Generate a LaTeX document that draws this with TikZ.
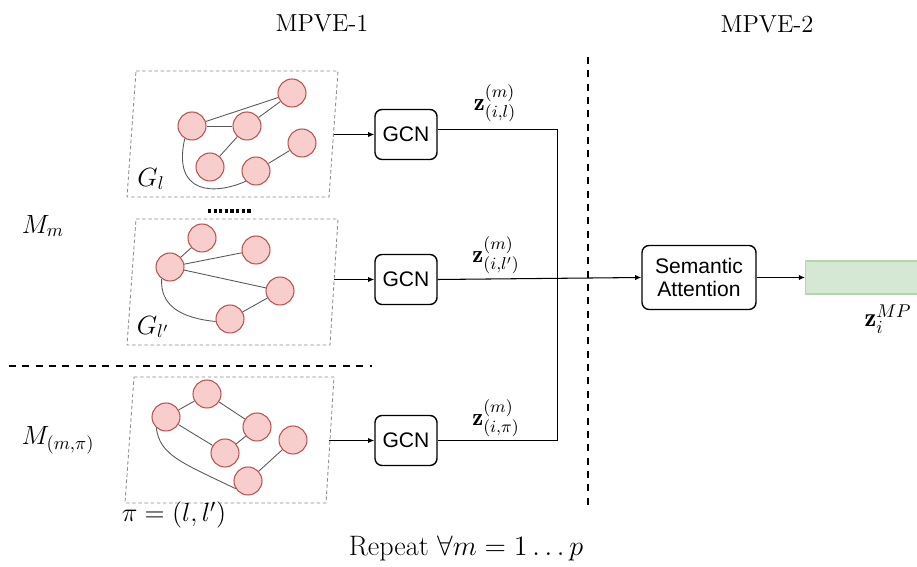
\RequirePackage{fix-cm}
\documentclass[tikz,border=0pt]{standalone}
\usepackage{fontspec}
\newfontfamily\gcnfont{Liberation Sans}
\usepackage{tikz}
\usetikzlibrary{positioning}
\usetikzlibrary{arrows.meta}
\definecolor{nodefill}{HTML}{F8CECC}
\definecolor{nodedraw}{HTML}{B85450}
\definecolor{embfill}{HTML}{D5E8D4}
\definecolor{embdraw}{HTML}{B5D6AC}
\tikzstyle{vertex}=[circle,fill=nodefill,draw=nodedraw,line width=0.6pt,minimum size=0.56cm,inner sep=0pt]
\tikzstyle{gedge}=[draw=black!65,line width=0.5pt]
\tikzstyle{panel}=[draw=black!45,dash pattern=on 2pt off 1.5pt,line width=0.5pt]
\tikzstyle{block}=[draw,rounded corners=4pt,line width=0.8pt,font=\gcnfont\fontsize{12}{13.5}\selectfont,align=center,inner sep=1pt]
\tikzstyle{flow}=[draw,line width=0.6pt,-{Latex[length=3.5pt,width=3pt]}]
\tikzstyle{wire}=[draw,line width=0.6pt]
\tikzstyle{divider}=[draw,line width=1.4pt,dash pattern=on 4pt off 3.6pt]
\tikzstyle{heading}=[font=\fontsize{14}{16}\selectfont]
\tikzstyle{zlabel}=[font=\fontsize{14}{16}\selectfont,inner sep=1pt]
\tikzstyle{glabel}=[font=\fontsize{15}{17}\selectfont]

\begin{document}
\begin{tikzpicture}[x=0.02cm, y=-0.02cm]
    \useasboundingbox (0,0) rectangle (917,567);

    % Titles
    \node[heading] (t1) at (322,23) {MPVE-1};
    \node[heading] (t2) at (767,24) {MPVE-2};
    \node[heading, font=\fontsize{16}{18}\selectfont] (rep) at (466,548) {Repeat $\forall m = 1\ldots p$};
    \node[heading, font=\fontsize{15}{17}\selectfont] (mm) at (43,226) {$M_m$};
    \node[heading, font=\fontsize{15}{17}\selectfont] (mmp) at (58,440) {$M_{(m,\pi)}$};

    % Draw the graph G_l
    % First we draw the vertices
    \draw[panel] (136,71) -- (338,71) -- (329,197) -- (127,197) -- cycle;
    \foreach \pos/\name in {{(192,126)/a1}, {(247,126)/a2}, {(292,93)/a3}, {(302,143)/a4}, {(210,167)/a5}, {(256,171)/a6}}
        \node[vertex] (\name) at \pos {};
    % Connect vertices with edges
    \foreach \source/ \dest in {a1/a3, a1/a2, a2/a3, a2/a5, a4/a6}
        \path[gedge] (\source) -- (\dest);
    \path[gedge] (a1.240) .. controls (172,195) and (215,195) .. (a6.225);
    \node[glabel] (gl) at (151,179) {$G_l$};
    \coordinate (p1) at (333.5,134.5);

    % the dots between the graphs
    \draw[line width=1.8pt,dash pattern=on 1.8pt off 1.4pt] (208,211) -- (251,211);

    % Draw the graph G_l'
    \draw[panel] (136,219) -- (338,219) -- (330,345) -- (127,345) -- cycle;
    \foreach \pos/\name in {{(170,267)/b1}, {(202,238)/b2}, {(256,250)/b3}, {(280,291)/b4}, {(230,319)/b5}}
        \node[vertex] (\name) at \pos {};
    \foreach \source/ \dest in {b1/b2, b1/b3, b1/b4, b4/b5}
        \path[gedge] (\source) -- (\dest);
    \path[gedge] (b1.235) .. controls (160,305) and (180,318) .. (b5.190);
    \node[glabel] (glp) at (153,327) {$G_{l'}$};
    \coordinate (p2) at (334,279.5);

    % dashed line between the meta paths
    \draw[divider] (9,366) -- (372,366);

    % Draw the graph of pi
    \draw[panel] (134,377) -- (334,377) -- (326,503) -- (125,503) -- cycle;
    \foreach \pos/\name in {{(166,417)/c1}, {(207,394)/c2}, {(257,427)/c3}, {(225,453)/c4}, {(293,440)/c5}, {(248,481)/c6}}
        \node[vertex] (\name) at \pos {};
    \foreach \source/ \dest in {c1/c2, c2/c3, c1/c4, c4/c3, c5/c6}
        \path[gedge] (\source) -- (\dest);
    \path[gedge] (c1.228) .. controls (160,455) and (180,462) .. (c6.212);
    \node[glabel] (pil) at (174,515) {$\pi = (l,l')$};
    \coordinate (p3) at (329,440.5);

    % GCN blocks
    \node[block, minimum width=1.24cm, minimum height=1cm] (g1) at (406,134.5) {GCN};
    \node[block, minimum width=1.24cm, minimum height=1cm] (g2) at (406,279.5) {GCN};
    \node[block, minimum width=1.24cm, minimum height=1cm] (g3) at (406,440.5) {GCN};
    \foreach \source/ \dest in {p1/g1, p2/g2, p3/g3}
        \path[flow] (\source) -- (\dest);

    % outputs of the GCNs
    \coordinate (bt) at (557.5,129.5);
    \coordinate (bb) at (557.5,440.5);
    \path[wire] (g1.east |- bt) -- (bt) -- (bb) -- (g3.east);
    \node[zlabel] (z1) at (495,103) {$\mathbf{z}^{(m)}_{(i,l)}$};
    \node[zlabel] (z2) at (496,255) {$\mathbf{z}^{(m)}_{(i,l')}$};
    \node[zlabel] (z3) at (496,418) {$\mathbf{z}^{(m)}_{(i,\pi)}$};

    % MPVE-1 | MPVE-2
    \draw[divider] (588,57) -- (588,510);

    % Semantic attention and the embedding
    \node[block, minimum width=2.28cm, minimum height=1.28cm] (sa) at (699,277.5) {Semantic\\Attention};
    \node[draw=embdraw, fill=embfill, line width=0.6pt, minimum width=2.28cm, minimum height=0.66cm, anchor=west, inner sep=0pt] (emb) at (805,277.5) {};
    \path[flow] (g2.east) -- (sa.west);
    \path[flow] (sa.east) -- (emb.west);
    \node[zlabel, font=\fontsize{15}{17}\selectfont] (zmp) at (888,319) {$\mathbf{z}^{MP}_i$};

\end{tikzpicture}
\end{document}
